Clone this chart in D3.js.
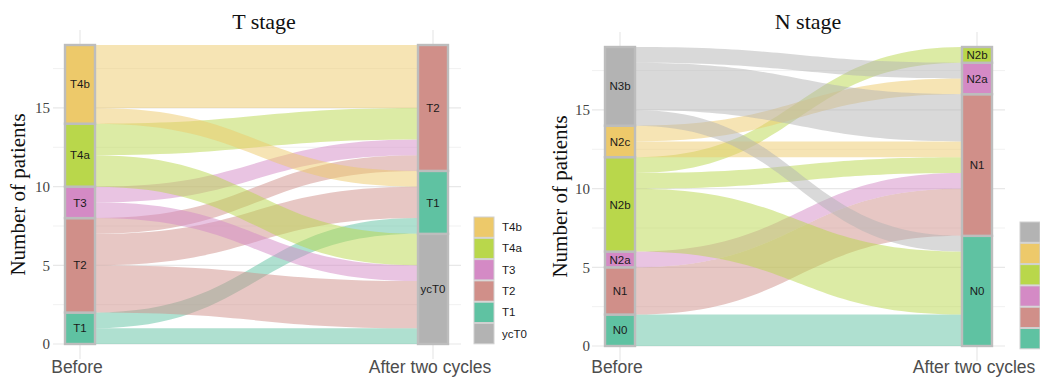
<!DOCTYPE html>
<html>
<head>
<meta charset="utf-8">
<script src="https://cdn.jsdelivr.net/npm/d3@7"></script>
<style>
  body { margin: 0; background: #fff; }
  svg { display: block; }
</style>
</head>
<body>
<svg id="chart" width="1040" height="378"></svg>
<script>
// T stage data (strata listed bottom to top)
const tBefore = ["T1", "T2", "T3", "T4a", "T4b"];
const tAfter = ["ycT0", "T1", "T2"];
const tFrom  = ["T1", "T1", "T2", "T2", "T2", "T3", "T3", "T4a", "T4a", "T4b", "T4b"];
const tTo    = ["ycT0", "T1", "ycT0", "T1", "T2", "ycT0", "T2", "ycT0", "T2", "T1", "T2"];
const tCount = [1, 1, 3, 2, 1, 1, 1, 2, 2, 1, 4];
const tLegend = ["T4b", "T4a", "T3", "T2", "T1", "ycT0"];

// N stage data
const nBefore = ["N0", "N1", "N2a", "N2b", "N2c", "N3b"];
const nAfter = ["N0", "N1", "N2a", "N2b"];
const nFrom  = ["N0", "N1", "N2a", "N2b", "N2b", "N2b", "N2c", "N2c", "N3b", "N3b", "N3b"];
const nTo    = ["N0", "N1", "N1", "N0", "N1", "N2b", "N1", "N2a", "N0", "N1", "N2a"];
const nCount = [2, 3, 1, 4, 1, 1, 1, 1, 1, 3, 1];
const nLegend = ["N3b", "N2c", "N2b", "N2a", "N1", "N0"];

const xLabels = ["Before", "After two cycles"];
const yTicks = [0, 5, 10, 15];

const palette = {
  T4b: "#EDC96A", N2c: "#EDC96A",
  T4a: "#B9D74B", N2b: "#B9D74B",
  T3: "#D48AC5", N2a: "#D48AC5",
  T2: "#D08F89", N1: "#D08F89",
  T1: "#5FC2A2", N0: "#5FC2A2",
  ycT0: "#B3B3B3", N3b: "#B3B3B3"
};

const svg = d3.select("#chart");

function drawPanel(p) {
  const g = svg.append("g");
  const total = d3.sum(p.count);

  const y = d3.scaleLinear().domain([0, total]).range([p.y0, p.y19]);
  const x = d3.scalePoint().domain(xLabels).range([p.xb, p.xa]);
  const half = 15;

  // grid
  const minor = d3.range(2.5, total, 5);
  g.selectAll(".minor").data(minor).enter().append("line")
    .attr("x1", p.gx0).attr("x2", p.gx1)
    .attr("y1", d => y(d)).attr("y2", d => y(d))
    .attr("stroke", "#F1F1F1").attr("stroke-width", 1);
  g.selectAll(".major").data(yTicks).enter().append("line")
    .attr("x1", p.gx0).attr("x2", p.gx1)
    .attr("y1", d => y(d)).attr("y2", d => y(d))
    .attr("stroke", "#E8E8E8").attr("stroke-width", 1.2);
  g.selectAll(".vgrid").data(xLabels).enter().append("line")
    .attr("x1", d => x(d)).attr("x2", d => x(d))
    .attr("y1", p.y19 - 15).attr("y2", p.y0 + 15)
    .attr("stroke", "#E8E8E8").attr("stroke-width", 1.2);

  // y axis
  const ya = g.append("g")
    .attr("transform", "translate(" + p.tickX + ",0)")
    .call(d3.axisLeft(y).tickValues(yTicks).tickSize(0).tickPadding(0));
  ya.select(".domain").remove();
  ya.selectAll("text")
    .attr("font-family", "Liberation Serif, Times New Roman, serif")
    .attr("font-size", 15).attr("fill", "#444");

  // x labels
  g.selectAll(".xl").data(xLabels).enter().append("text")
    .attr("x", d => x(d) - 3)
    .attr("y", 373)
    .attr("text-anchor", "middle")
    .attr("font-family", "Liberation Sans, Arial, sans-serif")
    .attr("font-size", 17.5).attr("fill", "#4d4d4d")
    .text(d => d);

  // stacking of flows
  const bStart = {}, aStart = {};
  let acc = 0;
  p.before.forEach(s => {
    bStart[s] = acc;
    acc += d3.sum(p.count.filter((c, i) => p.from[i] === s));
  });
  acc = 0;
  p.after.forEach(s => {
    aStart[s] = acc;
    acc += d3.sum(p.count.filter((c, i) => p.to[i] === s));
  });

  const flows = p.from.map((f, i) => ({ from: f, to: p.to[i], n: p.count[i] }));
  p.before.forEach(s => {
    let o = bStart[s];
    flows.filter(d => d.from === s)
      .sort((a, b) => p.after.indexOf(a.to) - p.after.indexOf(b.to))
      .forEach(d => { d.l0 = o; o += d.n; d.l1 = o; });
  });
  p.after.forEach(s => {
    let o = aStart[s];
    flows.filter(d => d.to === s)
      .sort((a, b) => p.before.indexOf(a.from) - p.before.indexOf(b.from))
      .forEach(d => { d.r0 = o; o += d.n; d.r1 = o; });
  });

  const xl = x(xLabels[0]) + half, xr = x(xLabels[1]) - half;
  const k = 0.5;
  const cx0 = xl + (xr - xl) * k, cx1 = xr - (xr - xl) * k;
  g.selectAll(".flow").data(flows).enter().append("path")
    .attr("d", d => {
      const p0 = y(d.l1), p1 = y(d.r1), q1 = y(d.r0), q0 = y(d.l0);
      const path = d3.path();
      path.moveTo(xl, p0);
      path.bezierCurveTo(cx0, p0, cx1, p1, xr, p1);
      path.lineTo(xr, q1);
      path.bezierCurveTo(cx1, q1, cx0, q0, xl, q0);
      path.closePath();
      return path.toString();
    })
    .attr("fill", d => palette[d.from])
    .attr("fill-opacity", 0.5);

  // strata
  function strata(list, starts, key, xc) {
    const rows = list.map(s => ({
      s: s, y0: starts[s],
      y1: starts[s] + d3.sum(p.count.filter((c, i) => p[key][i] === s))
    }));
    const sg = g.append("g");
    sg.selectAll("rect").data(rows).enter().append("rect")
      .attr("x", xc - half).attr("width", half * 2)
      .attr("y", d => y(d.y1)).attr("height", d => y(d.y0) - y(d.y1))
      .attr("fill", d => palette[d.s])
      .attr("stroke", "#BDBDBD").attr("stroke-width", 2.4);
    sg.selectAll("text").data(rows).enter().append("text")
      .attr("x", xc).attr("y", d => (y(d.y0) + y(d.y1)) / 2)
      .attr("dy", "0.36em")
      .attr("text-anchor", "middle")
      .attr("font-family", "Liberation Sans, Arial, sans-serif")
      .attr("font-size", 11.5).attr("fill", "#1a1a1a")
      .text(d => d.s);
  }
  strata(p.before, bStart, "from", x(xLabels[0]));
  strata(p.after, aStart, "to", x(xLabels[1]));

  // titles
  g.append("text")
    .attr("x", p.titleX).attr("y", 29)
    .attr("text-anchor", "middle")
    .attr("font-family", "Liberation Serif, Times New Roman, serif")
    .attr("font-size", 22).attr("fill", "#111")
    .text(p.title);
  g.append("text")
    .attr("transform", "translate(" + p.ytX + "," + ((p.y0 + p.y19) / 2) + ") rotate(-90)")
    .attr("text-anchor", "middle")
    .attr("font-family", "Liberation Serif, Times New Roman, serif")
    .attr("font-size", 21).attr("fill", "#111")
    .text("Number of patients");

  // legend (labels of the right legend fall outside the picture, as in the original)
  const lg = g.append("g").attr("transform", "translate(" + p.legX + "," + p.legY + ")");
  lg.selectAll("rect").data(p.legend).enter().append("rect")
    .attr("x", 0).attr("y", (d, i) => i * 21.3)
    .attr("width", 20).attr("height", 20.3)
    .attr("fill", d => palette[d])
    .attr("stroke", "#D0D0D0").attr("stroke-width", 1);
  if (p.legendLabels) {
    lg.selectAll("text").data(p.legend).enter().append("text")
      .attr("x", 28).attr("y", (d, i) => i * 21.3 + 10)
      .attr("dy", "0.36em")
      .attr("font-family", "Liberation Sans, Arial, sans-serif")
      .attr("font-size", 11.5).attr("fill", "#1a1a1a")
      .text(d => d);
  }
}

drawPanel({
  title: "T stage", titleX: 264, ytX: 25,
  before: tBefore, after: tAfter, from: tFrom, to: tTo, count: tCount, legend: tLegend,
  y0: 344, y19: 45, xb: 80, xa: 433, gx0: 53, gx1: 461, tickX: 50,
  legX: 474, legY: 217, legendLabels: true
});
drawPanel({
  title: "N stage", titleX: 808, ytX: 567,
  before: nBefore, after: nAfter, from: nFrom, to: nTo, count: nCount, legend: nLegend,
  y0: 346, y19: 47, xb: 620, xa: 977, gx0: 592, gx1: 1005, tickX: 590,
  legX: 1020, legY: 222, legendLabels: false
});
</script>
</body>
</html>
